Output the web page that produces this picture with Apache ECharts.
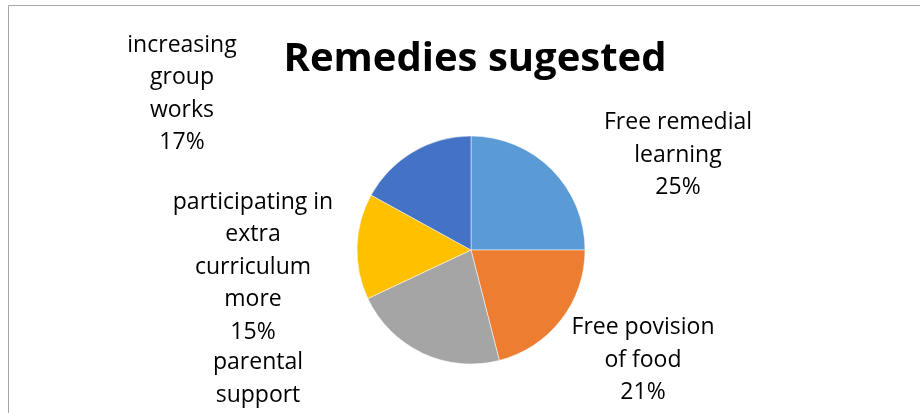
<!DOCTYPE html>
<html>
<head>
<meta charset="utf-8">
<script src="https://cdn.jsdelivr.net/npm/echarts@6/dist/echarts.min.js"></script>
<style>
  html, body { margin: 0; padding: 0; background: #fff; }
  #chart { width: 920px; height: 413px; }
</style>
</head>
<body>
<div id="chart"></div>
<script>
// Remedies suggested — share of responses per remedy
const categories = [
  'Free remedial\nlearning',
  'Free povision\nof food',
  'parental\nsupport',
  'participating in\nextra\ncurriculum\nmore',
  'increasing\ngroup\nworks'
];
const shares = [25, 21, 22, 15, 17];
const colors = ['#5B9BD5', '#ED7D31', '#A5A5A5', '#FFC000', '#4472C4'];

const labelAnchors = [
  { x: 678, y: 155 },
  { x: 643, y: 360 },
  { x: 258, y: 395 },
  { x: 253, y: 267 },
  { x: 182, y: 94 }
];

const chart = echarts.init(document.getElementById('chart'), null, { renderer: 'canvas' });

chart.setOption({
  animation: false,
  backgroundColor: '#ffffff',
  title: {
    text: 'Remedies sugested',
    left: 470,
    top: 35,
    textAlign: 'center',
    textStyle: { fontFamily: 'Open Sans', fontWeight: 'bold', fontSize: 40, color: '#000' }
  },
  graphic: [{
    type: 'rect',
    shape: { x: 8.5, y: 5.5, width: 940, height: 440 },
    style: { fill: 'none', stroke: '#a6a6a6', lineWidth: 1 },
    silent: true
  }],
  series: [{
    type: 'pie',
    center: [471, 250],
    radius: 114,
    startAngle: 90,
    clockwise: true,
    itemStyle: { borderColor: '#ffffff', borderWidth: 0.5 },
    label: {
      show: true,
      position: 'outside',
      formatter: (p) => p.name + '\n' + p.value + '%',
      fontFamily: 'Open Sans',
      fontSize: 23,
      lineHeight: 32.5,
      color: '#000',
      align: 'center'
    },
    labelLine: { show: false },
    labelLayout: (p) => ({
      x: labelAnchors[p.dataIndex].x,
      y: labelAnchors[p.dataIndex].y,
      align: 'center',
      verticalAlign: 'middle'
    }),
    data: categories.map((name, i) => ({
      name: name,
      value: shares[i],
      itemStyle: { color: colors[i] }
    }))
  }]
});
</script>
</body>
</html>
